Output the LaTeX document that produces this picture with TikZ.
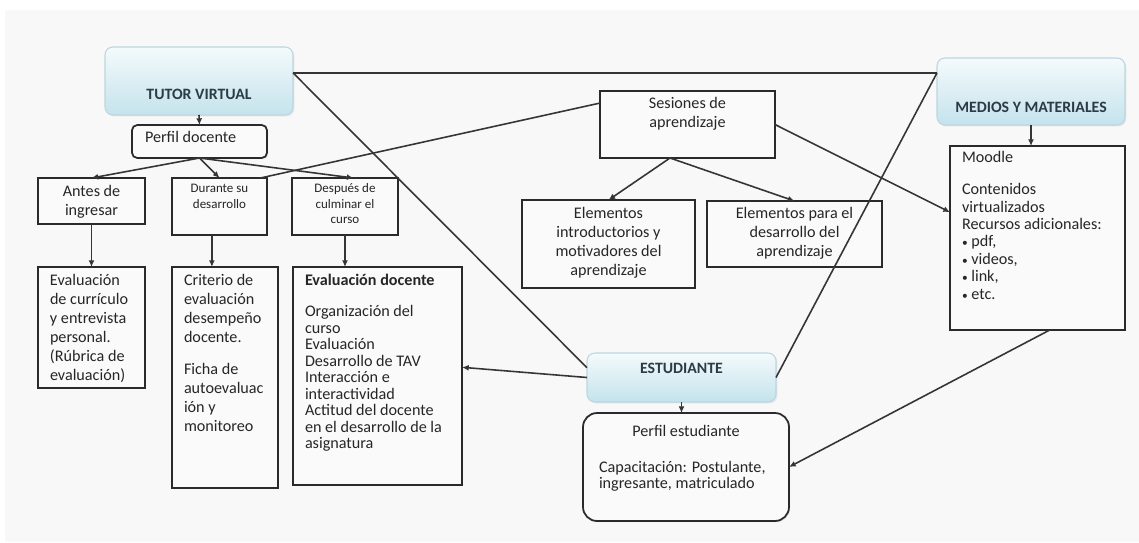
\documentclass[tikz,border=0pt]{standalone}
\usepackage{fontspec}
\setmainfont{Carlito}
\usetikzlibrary{arrows.meta,calc,shadows}
\newdimen\pxu \pxu=0.02cm
\newcommand\bx[4]{\parbox[t][#2\pxu][t]{#1\pxu}{\vspace*{#3\pxu}\strut #4}}
\newcommand\lft[1]{\raggedright\leftskip=#1\pxu\relax}
\newcommand\bul{{\fontsize{6.5}{6.5}\selectfont\textbullet}\ }
\definecolor{bgc}{HTML}{F8F8F8}
\definecolor{boxfill}{HTML}{FAFAFA}
\definecolor{linec}{HTML}{353535}
\definecolor{boxc}{HTML}{2A2A2A}
\definecolor{txtc}{HTML}{262626}
\definecolor{btop}{HTML}{F4FAFC}
\definecolor{bbot}{HTML}{C4E3EC}
\definecolor{bdraw}{HTML}{BCD6DF}
\definecolor{ttl}{HTML}{2B3B47}
\tikzset{
  nbase/.style={anchor=north west, inner sep=0pt, outer sep=0pt, text=txtc,
    font=\fontsize{9.2}{10.8}\selectfont},
  plainbox/.style={nbase, draw=boxc, line width=1pt, fill=boxfill,
    drop shadow={shadow xshift=0.7pt, shadow yshift=-0.7pt, opacity=0.18}},
  tbox/.style={nbase, draw=bdraw, line width=0.6pt, rounded corners=4.5pt,
    top color=btop, bottom color=bbot, text=ttl,
    font=\bfseries\fontsize{9}{10.8}\selectfont,
    drop shadow={shadow xshift=0.8pt, shadow yshift=-0.8pt, opacity=0.15}},
  conn/.style={draw=linec, line width=0.9pt},
  arr/.style={conn, -{Latex[length=3.8pt,width=3.4pt]}}
}
\begin{document}
\begin{tikzpicture}[x=0.02cm,y=-0.02cm]
\useasboundingbox (0,0) rectangle (1139,542);
\fill[white] (0,0) rectangle (1139,542);
\fill[bgc] (5,10) rectangle (1139,542);

% title boxes
\node[tbox] (tutor) at (105,47) {\bx{188}{68}{38.8}{\centering TUTOR VIRTUAL}};
\node[tbox] (medios) at (937,58) {\bx{188}{67}{40.8}{\centering MEDIOS Y MATERIALES}};
\node[tbox] (estud) at (587,353) {\bx{189}{49}{6.8}{\centering ESTUDIANTE}};

% left branch
\node[plainbox, rounded corners=3pt] (perfilD) at (132,125) {\bx{135}{33}{4.5}{\lft{13}Perfil docente}};
\node[plainbox] (antes) at (38,178) {\bx{107}{46}{5.5}{\centering Antes de\\ingresar}};
\node[plainbox, font=\fontsize{7.4}{9}\selectfont] (durante) at (172,178) {\bx{95}{57}{3.9}{\centering Durante su\\desarrollo}};
\node[plainbox, font=\fontsize{7.4}{8.8}\selectfont] (despues) at (292,178) {\bx{106}{57}{4.1}{\centering Después de\\culminar el\\curso}};
\node[plainbox] (evalCur) at (38,267) {\bx{107}{121}{5.5}{\lft{12}Evaluación\\de currículo\\y entrevista\\personal.\\(Rúbrica de\\evaluación)}};
\node[plainbox] (criterio) at (172,267) {\bx{106}{221}{5.5}{\lft{12}Criterio de\\evaluación\\desempeño\\docente.\par\vspace{13\pxu}Ficha de\\autoevaluac\\ión y\\monitoreo}};
\node[plainbox, font=\fontsize{9.2}{9.4}\selectfont] (evalDoc) at (293,267) {\bx{169}{218}{7.2}{\lft{12}\textbf{Evaluación docente}\par\vspace{14.4\pxu}Organización del\\curso\\Evaluación\\Desarrollo de TAV\\Interacción e\\interactividad\\Actitud del docente\\en el desarrollo de la\\asignatura}};

% middle
\node[plainbox] (ses) at (600,91) {\bx{175}{67}{4.5}{\centering Sesiones de\\aprendizaje}};
\node[plainbox] (elemI) at (522,200) {\bx{173}{88}{5.5}{\centering Elementos\\introductorios y\\motivadores del\\aprendizaje}};
\node[plainbox] (elemD) at (707,201) {\bx{175}{66}{4.5}{\centering Elementos para el\\desarrollo del\\aprendizaje}};

% right
\node[plainbox, font=\fontsize{9.2}{9.9}\selectfont] (moodle) at (950,146) {\bx{175}{184}{4.6}{\lft{12}Moodle\par\vspace{14.5\pxu}Contenidos\\virtualizados\\Recursos adicionales:\\\bul pdf,\\\bul videos,\\\bul link,\\\bul etc.}};
\node[plainbox, rounded corners=8pt] (perfilE) at (583,413) {\bx{206}{108}{10.5}{\centering Perfil estudiante\par\fontsize{9.2}{9.1}\selectfont\vspace{17\pxu}\lft{16}Capacitación: Postulante,\\ingresante, matriculado}};

% connectors
\coordinate (h1) at ($(tutor.north east)!0.38!(tutor.south east)$);
\coordinate (h2) at (h1 -| medios.west);
\draw[conn] (h1) -- (h2);
\draw[conn] (h1) -- ($(estud.north west)!0.3!(estud.south west)$);
\draw[arr] (tutor.south) -- (perfilD.north);
\draw[arr] (perfilD.south) -- (antes.north);
\draw[arr] (perfilD.south) -- (durante.north);
\draw[arr] (perfilD.south) -- ($(despues.north west)!0.58!(despues.north east)$);
\draw[arr] (antes.south) -- (evalCur.north);
\coordinate (d1) at ($(durante.south west)!0.42!(durante.south east)$);
\draw[arr] (d1) -- (d1 |- criterio.north);
\draw[arr] (despues.south) -- (despues.south |- evalDoc.north);
\draw[arr] (estud.west) -- ($(evalDoc.north east)!0.46!(evalDoc.south east)$);
\draw[conn] (estud.east) -- (h2);
\draw[arr] (estud.south) -- (estud.south |- perfilE.north);
\draw[arr] (medios.south) -- (medios.south |- moodle.north);
\draw[arr] ($(moodle.south west)!0.57!(moodle.south east)$) -- (perfilE.east);
\draw[arr] (ses.east) -- ($(moodle.north west)!0.36!(moodle.south west)$);
\coordinate (s1) at ($(ses.south west)!0.4!(ses.south east)$);
\draw[arr] (s1) -- (elemI.north);
\draw[arr] (s1) -- (elemD.north);
\draw[conn] ($(ses.north west)!0.18!(ses.south west)$) -- ($(durante.north west)!0.93!(durante.north east)$);
\end{tikzpicture}
\end{document}
